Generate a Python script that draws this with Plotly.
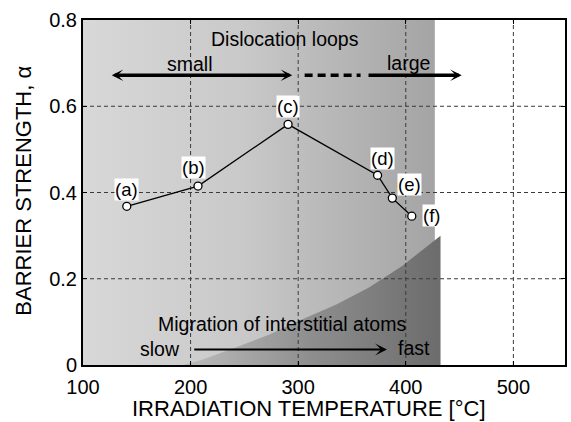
import plotly.graph_objects as go

# ---- data ----
temps = [140.7, 206.9, 290.6, 373.8, 387.5, 405.6]
alpha = [0.368, 0.415, 0.558, 0.440, 0.387, 0.345]
labels = ["(a)", "(b)", "(c)", "(d)", "(e)", "(f)"]
label_x = [140.7, 202.3, 290.7, 378.8, 403.5, 423.6]
label_y = [0.407, 0.457, 0.600, 0.480, 0.419, 0.347]

x_ticks = [100, 200, 300, 400, 500]
y_ticks = [0, 0.2, 0.4, 0.6, 0.8]
y_ticktext = ["0", "0.2", "0.4", "0.6", "0.8"]

# shaded regions (dislocation-loop zone and interstitial-migration zone)
loop_region_x = [100, 427, 427, 100, 100]
loop_region_y = [0, 0, 0.8, 0.8, 0]
migr_x = [193.0, 211.3, 242.5, 273.3, 303.8, 335.0, 365.8, 396.3, 432.3, 432.3, 193.0]
migr_y = [0.0, 0.013, 0.041, 0.071, 0.106, 0.140, 0.180, 0.229, 0.300, 0.0, 0.0]

FONT = "Liberation Sans, Arial, sans-serif"

fig = go.Figure()

fig.add_trace(go.Scatter(
    x=loop_region_x, y=loop_region_y, mode="lines", fill="toself",
    line=dict(width=0), hoverinfo="skip", showlegend=False,
    fillgradient=dict(type="horizontal",
                      colorscale=[[0, "#d8d8d8"], [0.45, "#c9c9c9"], [1, "#a4a4a4"]]),
))
fig.add_trace(go.Scatter(
    x=migr_x, y=migr_y, mode="lines", fill="toself",
    line=dict(width=0), hoverinfo="skip", showlegend=False,
    fillgradient=dict(type="horizontal",
                      colorscale=[[0, "#bcbcbc"], [0.5, "#8e8e8e"], [1, "#6c6c6c"]]),
))

# grid lines drawn above the shading
for xv in x_ticks[1:]:
    fig.add_trace(go.Scatter(x=[xv, xv], y=[y_ticks[0], y_ticks[-1]], mode="lines",
                             line=dict(color="#3a3a3a", width=1, dash="4px,3px"),
                             hoverinfo="skip", showlegend=False))
for yv in y_ticks[1:-1]:
    fig.add_trace(go.Scatter(x=[100, 548], y=[yv, yv], mode="lines",
                             line=dict(color="#3a3a3a", width=1, dash="4px,3px"),
                             hoverinfo="skip", showlegend=False))

# dashed middle part of the dislocation-loop arrow
fig.add_trace(go.Scatter(x=[306, 358], y=[0.672, 0.672], mode="lines",
                         line=dict(color="black", width=3.5, dash="8px,5px"),
                         hoverinfo="skip", showlegend=False))

# data
fig.add_trace(go.Scatter(
    x=temps, y=alpha, mode="lines+markers", showlegend=False,
    line=dict(color="black", width=1.3),
    marker=dict(symbol="circle", size=8, color="white",
                line=dict(color="black", width=1.3)),
))

ann = []
for lx, ly, t in zip(label_x, label_y, labels):
    ann.append(dict(x=lx, y=ly, xref="x", yref="y", text=t, showarrow=False,
                    font=dict(size=18.5, color="black", family=FONT),
                    bgcolor="white", borderpad=0))

def arrow(x0, x1, y, w, size, both=False):
    return dict(x=x1, y=y, ax=x0, ay=y, xref="x", yref="y", axref="x", ayref="y",
                text="", showarrow=True, arrowhead=3, arrowsize=size, arrowwidth=w,
                arrowcolor="black", arrowside="end+start" if both else "end",
                standoff=0, startstandoff=0)

ann.append(arrow(125.3, 294.5, 0.672, 3.5, 0.55, both=True))
ann.append(arrow(364, 452, 0.672, 3.5, 0.55))
ann.append(arrow(202, 382.5, 0.036, 2.2, 0.9))

texts = [
    ("Dislocation loops", 287.6, 0.755),
    ("small", 199.3, 0.697),
    ("large", 402.3, 0.700),
    ("Migration of interstitial atoms", 284.8, 0.096),
    ("slow", 172, 0.038),
    ("fast", 407.4, 0.040),
]
for t, x, y in texts:
    ann.append(dict(x=x, y=y, xref="x", yref="y", text=t, showarrow=False,
                    font=dict(size=19.5, color="black", family=FONT)))

# axis titles
ann.append(dict(x=0.469, y=-0.126, xref="paper", yref="paper",
                text="IRRADIATION TEMPERATURE [°C]", showarrow=False,
                xanchor="center", yanchor="middle",
                font=dict(size=22, color="black", family=FONT)))
ann.append(dict(x=-0.124, y=0.506, xref="paper", yref="paper",
                text="BARRIER STRENGTH, α", showarrow=False, textangle=-90,
                xanchor="center", yanchor="middle",
                font=dict(size=22, color="black", family=FONT)))

fig.update_layout(
    width=571, height=422,
    margin=dict(l=83, r=4, t=20, b=57),
    paper_bgcolor="white", plot_bgcolor="white",
    annotations=ann,
    font=dict(family=FONT, color="black"),
)
fig.update_xaxes(range=[100, 548], tickvals=x_ticks, showgrid=False, zeroline=False,
                 showline=True, linecolor="black", linewidth=2, mirror="ticks",
                 ticks="inside", ticklen=4, tickcolor="black", ticklabelstandoff=3,
                 tickfont=dict(size=20, family=FONT, color="black"))
fig.update_yaxes(range=[0, 0.8], tickvals=y_ticks, ticktext=y_ticktext,
                 showgrid=False, zeroline=False,
                 showline=True, linecolor="black", linewidth=2, mirror="ticks",
                 ticks="inside", ticklen=4, tickcolor="black",
                 tickfont=dict(size=20, family=FONT, color="black"))

fig.write_html("out.html")
